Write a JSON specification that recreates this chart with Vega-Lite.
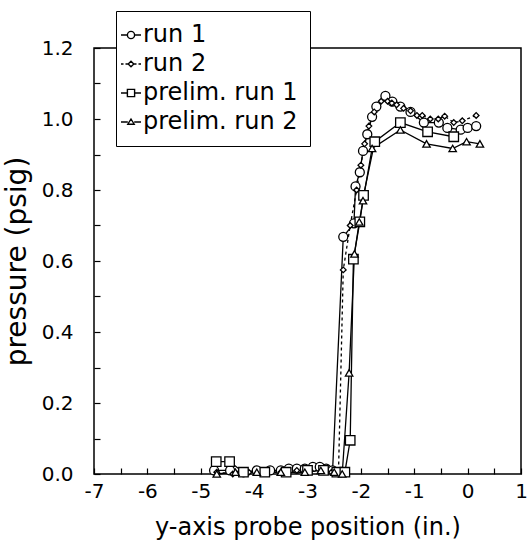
{
  "$schema": "https://vega.github.io/schema/vega-lite/v6.json",
  "width": 427,
  "height": 426,
  "autosize": {"type": "none"},
  "padding": {"left": 94, "top": 48, "right": 7, "bottom": 82},
  "background": "white",
  "config": {
    "view": {"stroke": "black", "strokeWidth": 1.5},
    "font": "DejaVu Sans"
  },
  "data": {
    "values": [
      {"series": "run 1", "x": -4.75, "p": 0.01},
      {"series": "run 1", "x": -4.45, "p": 0.01},
      {"series": "run 1", "x": -4.2, "p": 0.005},
      {"series": "run 1", "x": -3.95, "p": 0.01},
      {"series": "run 1", "x": -3.7, "p": 0.01},
      {"series": "run 1", "x": -3.5, "p": 0.01},
      {"series": "run 1", "x": -3.35, "p": 0.015},
      {"series": "run 1", "x": -3.2, "p": 0.015},
      {"series": "run 1", "x": -3.05, "p": 0.015},
      {"series": "run 1", "x": -2.9, "p": 0.02},
      {"series": "run 1", "x": -2.77, "p": 0.02},
      {"series": "run 1", "x": -2.65, "p": 0.015},
      {"series": "run 1", "x": -2.53, "p": 0.01},
      {"series": "run 1", "x": -2.33, "p": 0.668},
      {"series": "run 1", "x": -2.13, "p": 0.706},
      {"series": "run 1", "x": -2.1, "p": 0.81},
      {"series": "run 1", "x": -2.02, "p": 0.85},
      {"series": "run 1", "x": -1.96, "p": 0.91},
      {"series": "run 1", "x": -1.88, "p": 0.957},
      {"series": "run 1", "x": -1.79, "p": 1.006},
      {"series": "run 1", "x": -1.71, "p": 1.035},
      {"series": "run 1", "x": -1.54, "p": 1.065},
      {"series": "run 1", "x": -1.41, "p": 1.049},
      {"series": "run 1", "x": -1.26, "p": 1.035},
      {"series": "run 1", "x": -1.07, "p": 1.02},
      {"series": "run 1", "x": -0.82, "p": 0.99},
      {"series": "run 1", "x": -0.54, "p": 0.99},
      {"series": "run 1", "x": -0.38, "p": 0.975},
      {"series": "run 1", "x": -0.13, "p": 0.97},
      {"series": "run 1", "x": 0.0, "p": 0.975},
      {"series": "run 1", "x": 0.16, "p": 0.98},

      {"series": "run 2", "x": -4.7, "p": 0.005},
      {"series": "run 2", "x": -4.4, "p": 0.0},
      {"series": "run 2", "x": -4.1, "p": 0.005},
      {"series": "run 2", "x": -3.8, "p": 0.005},
      {"series": "run 2", "x": -3.5, "p": 0.005},
      {"series": "run 2", "x": -3.2, "p": 0.01},
      {"series": "run 2", "x": -2.95, "p": 0.01},
      {"series": "run 2", "x": -2.7, "p": 0.01},
      {"series": "run 2", "x": -2.55, "p": 0.005},
      {"series": "run 2", "x": -2.42, "p": 0.0},
      {"series": "run 2", "x": -2.33, "p": 0.575},
      {"series": "run 2", "x": -2.2, "p": 0.7},
      {"series": "run 2", "x": -2.08, "p": 0.8},
      {"series": "run 2", "x": -2.0, "p": 0.87},
      {"series": "run 2", "x": -1.93, "p": 0.93},
      {"series": "run 2", "x": -1.85, "p": 0.98},
      {"series": "run 2", "x": -1.75, "p": 1.02},
      {"series": "run 2", "x": -1.62, "p": 1.05},
      {"series": "run 2", "x": -1.5, "p": 1.05},
      {"series": "run 2", "x": -1.42, "p": 1.045},
      {"series": "run 2", "x": -1.33, "p": 1.04},
      {"series": "run 2", "x": -1.2, "p": 1.03},
      {"series": "run 2", "x": -1.07, "p": 1.023},
      {"series": "run 2", "x": -0.95, "p": 1.01},
      {"series": "run 2", "x": -0.85, "p": 1.01},
      {"series": "run 2", "x": -0.7, "p": 1.0},
      {"series": "run 2", "x": -0.55, "p": 1.0},
      {"series": "run 2", "x": -0.43, "p": 1.008},
      {"series": "run 2", "x": -0.26, "p": 0.99},
      {"series": "run 2", "x": -0.1, "p": 0.995},
      {"series": "run 2", "x": 0.16, "p": 1.01},

      {"series": "prelim. run 1", "x": -4.71, "p": 0.035},
      {"series": "prelim. run 1", "x": -4.46, "p": 0.035},
      {"series": "prelim. run 1", "x": -4.2, "p": 0.005},
      {"series": "prelim. run 1", "x": -3.8, "p": 0.005},
      {"series": "prelim. run 1", "x": -3.4, "p": 0.005},
      {"series": "prelim. run 1", "x": -3.0, "p": 0.01},
      {"series": "prelim. run 1", "x": -2.7, "p": 0.01},
      {"series": "prelim. run 1", "x": -2.45, "p": 0.005},
      {"series": "prelim. run 1", "x": -2.3, "p": 0.005},
      {"series": "prelim. run 1", "x": -2.2, "p": 0.095},
      {"series": "prelim. run 1", "x": -2.14, "p": 0.605},
      {"series": "prelim. run 1", "x": -2.02, "p": 0.71},
      {"series": "prelim. run 1", "x": -1.95, "p": 0.785},
      {"series": "prelim. run 1", "x": -1.74, "p": 0.936},
      {"series": "prelim. run 1", "x": -1.26, "p": 0.99},
      {"series": "prelim. run 1", "x": -0.75, "p": 0.964},
      {"series": "prelim. run 1", "x": -0.26, "p": 0.95},

      {"series": "prelim. run 2", "x": -4.7, "p": 0.0},
      {"series": "prelim. run 2", "x": -4.35, "p": 0.005},
      {"series": "prelim. run 2", "x": -3.95, "p": 0.005},
      {"series": "prelim. run 2", "x": -3.5, "p": 0.005},
      {"series": "prelim. run 2", "x": -3.05, "p": 0.005},
      {"series": "prelim. run 2", "x": -2.75, "p": 0.01},
      {"series": "prelim. run 2", "x": -2.5, "p": 0.005},
      {"series": "prelim. run 2", "x": -2.35, "p": 0.0},
      {"series": "prelim. run 2", "x": -2.22, "p": 0.285},
      {"series": "prelim. run 2", "x": -2.12, "p": 0.62},
      {"series": "prelim. run 2", "x": -2.03, "p": 0.71},
      {"series": "prelim. run 2", "x": -1.96, "p": 0.77},
      {"series": "prelim. run 2", "x": -1.79, "p": 0.917},
      {"series": "prelim. run 2", "x": -1.26, "p": 0.969},
      {"series": "prelim. run 2", "x": -0.77, "p": 0.93},
      {"series": "prelim. run 2", "x": -0.28, "p": 0.917},
      {"series": "prelim. run 2", "x": -0.02, "p": 0.936},
      {"series": "prelim. run 2", "x": 0.23, "p": 0.93}
    ]
  },
  "encoding": {
    "x": {
      "field": "x",
      "type": "quantitative",
      "scale": {"domain": [-7, 1], "nice": false, "zero": false},
      "axis": {
        "title": "y-axis probe position (in.)",
        "titleFont": "DejaVu Sans",
        "titleFontSize": 24,
        "titleFontWeight": "normal",
        "titleColor": "black",
        "titlePadding": 14,
        "values": [-7, -6.5, -6, -5.5, -5, -4.5, -4, -3.5, -3, -2.5, -2, -1.5, -1, -0.5, 0, 0.5, 1],
        "labelExpr": "datum.value % 1 === 0 ? '' + datum.value : ''",
        "labelFont": "DejaVu Sans",
        "labelFontSize": 20,
        "labelColor": "black",
        "labelPadding": 13,
        "labelOverlap": false,
        "labelFlush": false,
        "domain": false,
        "grid": false,
        "tickSize": -6,
        "tickColor": "black",
        "tickWidth": 1.2
      }
    },
    "y": {
      "field": "p",
      "type": "quantitative",
      "scale": {"domain": [0, 1.2], "nice": false},
      "axis": {
        "title": "pressure (psig)",
        "titleFont": "DejaVu Sans",
        "titleFontSize": 28,
        "titleFontWeight": "normal",
        "titleColor": "black",
        "titlePadding": 10,
        "values": [0, 0.1, 0.2, 0.3, 0.4, 0.5, 0.6, 0.7, 0.8, 0.9, 1.0, 1.1, 1.2],
        "labelExpr": "round(datum.value * 10) % 2 === 0 ? format(datum.value, '.1f') : ''",
        "labelFont": "DejaVu Sans",
        "labelFontSize": 20,
        "labelColor": "black",
        "labelPadding": 27,
        "labelOverlap": false,
        "labelFlush": false,
        "domain": false,
        "grid": false,
        "tickSize": -6,
        "tickColor": "black",
        "tickWidth": 1.2
      }
    }
  },
  "layer": [
    {
      "transform": [{"filter": "datum.series !== 'run 2'"}],
      "mark": {"type": "line", "color": "black", "strokeWidth": 1.3},
      "encoding": {"detail": {"field": "series", "type": "nominal"}}
    },
    {
      "transform": [{"filter": "datum.series === 'run 2'"}],
      "mark": {"type": "line", "color": "black", "strokeWidth": 1.3, "strokeDash": [3, 3]},
      "encoding": {}
    },
    {
      "transform": [{"filter": "datum.series === 'run 1'"}],
      "mark": {"type": "point", "shape": "circle", "size": 81, "fill": "white", "stroke": "black", "strokeWidth": 1.3, "opacity": 1, "fillOpacity": 1},
      "encoding": {}
    },
    {
      "transform": [{"filter": "datum.series === 'run 2'"}],
      "mark": {"type": "point", "shape": "diamond", "size": 32, "fill": "white", "stroke": "black", "strokeWidth": 1.3, "opacity": 1, "fillOpacity": 1},
      "encoding": {}
    },
    {
      "transform": [{"filter": "datum.series === 'prelim. run 1'"}],
      "mark": {"type": "point", "shape": "square", "size": 90, "fill": "white", "stroke": "black", "strokeWidth": 1.3, "opacity": 1, "fillOpacity": 1},
      "encoding": {}
    },
    {
      "transform": [{"filter": "datum.series === 'prelim. run 2'"}],
      "mark": {"type": "point", "shape": "triangle-up", "size": 55, "fill": "white", "stroke": "black", "strokeWidth": 1.3, "opacity": 1, "fillOpacity": 1},
      "encoding": {}
    },
    {
      "transform": [{"filter": "false"}],
      "mark": {"type": "point", "filled": false, "color": "black", "strokeWidth": 1.4, "opacity": 1},
      "encoding": {
        "shape": {
          "field": "series",
          "type": "nominal",
          "scale": {
            "domain": ["run 1", "run 2", "prelim. run 1", "prelim. run 2"],
            "range": [
              "M-1,0H-0.36M0.36,0H1M0.36,0A0.36,0.36,0,1,1,-0.36,0A0.36,0.36,0,1,1,0.36,0Z",
              "M-1,0H-0.75M-0.55,0H-0.3M0.3,0H0.55M0.75,0H1M0,-0.28L0.28,0L0,0.28L-0.28,0Z",
              "M-1,0H-0.36M0.36,0H1M-0.36,-0.36H0.36V0.36H-0.36Z",
              "M-1,0H-0.32M0.32,0H1M0,-0.3L0.32,0.22H-0.32Z"
            ]
          },
          "legend": {
            "title": null,
            "orient": "none",
            "legendX": 22,
            "legendY": -37,
            "padding": 12,
            "fillColor": "white",
            "strokeColor": "black",
            "symbolSize": 400,
            "symbolOffset": -9,
            "symbolStrokeWidth": 1.4,
            "symbolStrokeColor": "black",
            "symbolOpacity": 1,
            "labelFont": "DejaVu Sans",
            "labelFontSize": 24,
            "labelColor": "black",
            "labelOffset": 0,
            "rowPadding": 5
          }
        }
      }
    }
  ]
}
